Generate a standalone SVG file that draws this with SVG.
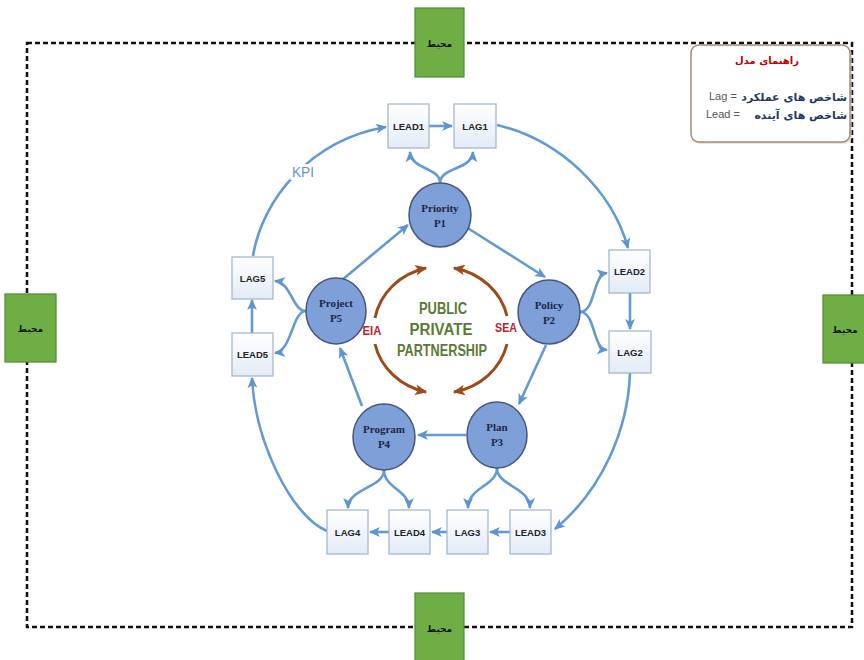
<svg xmlns="http://www.w3.org/2000/svg" width="864" height="660" viewBox="0 0 864 660">
<defs>
<linearGradient id="boxg" x1="0" y1="0" x2="0" y2="1">
<stop offset="0" stop-color="#ffffff"/>
<stop offset="1" stop-color="#e3ebf6"/>
</linearGradient>
<marker id="ab" markerUnits="userSpaceOnUse" viewBox="0 0 10 10" markerWidth="11" markerHeight="11" refX="9" refY="5" orient="auto">
<path d="M0,0.5 L10,5 L0,9.5 L2.5,5 z" fill="#5f95cf"/>
</marker>
<marker id="ar" markerUnits="userSpaceOnUse" viewBox="0 0 10 10" markerWidth="12" markerHeight="12" refX="9" refY="5" orient="auto">
<path d="M0,0.5 L10,5 L0,9.5 L2.5,5 z" fill="#9c4a1a"/>
</marker>
</defs>
<style>
.env rect{fill:#6fae45;stroke:#4f8a32;stroke-width:1.2}
.env text{font-family:"DejaVu Sans",sans-serif;font-size:9px;font-weight:bold;fill:#111;text-anchor:middle}
.sq rect{fill:url(#boxg);stroke:#9fb3cb;stroke-width:1.2}
.sq text{font-family:"Liberation Sans",Arial,sans-serif;font-size:9.5px;font-weight:bold;fill:#222;text-anchor:middle}
.pn ellipse{fill:#7f9fd9;stroke:#45577d;stroke-width:1.5}
.pn text{font-family:"Liberation Serif","Times New Roman",serif;font-size:11px;font-weight:bold;fill:#1c2746;text-anchor:middle}
.c path{fill:none;stroke:#629ad2;stroke-width:2.6;marker-end:url(#ab)}
.br path{fill:none;stroke:#9c4a1a;stroke-width:3;marker-end:url(#ar)}
</style>
<rect x="0" y="0" width="864" height="660" fill="#ffffff"/>
<rect x="27" y="43" width="825" height="584" fill="none" stroke="#111" stroke-width="2.5" stroke-dasharray="5,3"/>
<g id="legend">
<rect x="693" y="47" width="159" height="97" rx="8" fill="#d9d0c8" opacity="0.6"/>
<rect x="691" y="45" width="159" height="97" rx="8" fill="#ffffff" stroke="#a58a7a" stroke-width="1.5"/>
<text x="767" y="64" font-family="DejaVu Sans,sans-serif" font-size="10px" font-weight="bold" fill="#c00000" text-anchor="middle">راهنمای مدل</text>
<text x="847" y="101" font-family="DejaVu Sans,sans-serif" font-size="11px" font-weight="bold" fill="#1f3864" text-anchor="end">شاخص های عملکرد</text>
<text x="709" y="100" font-family="Liberation Sans,Arial,sans-serif" font-size="11px" fill="#555">Lag =</text>
<text x="847" y="119" font-family="DejaVu Sans,sans-serif" font-size="11px" font-weight="bold" fill="#1f3864" text-anchor="end">شاخص های آینده</text>
<text x="706" y="118" font-family="Liberation Sans,Arial,sans-serif" font-size="11px" fill="#555">Lead =</text>
</g>
<g id="env-top" class="env"><rect x="415" y="8" width="49" height="69"/><text x="439.5" y="47">محیط</text></g>
<g id="env-left" class="env"><rect x="5" y="294" width="51" height="68"/><text x="30.5" y="332">محیط</text></g>
<g id="env-right" class="env"><rect x="823" y="295" width="45" height="68"/><text x="845" y="333">محیط</text></g>
<g id="env-bottom" class="env"><rect x="415" y="593" width="49" height="70"/><text x="439.5" y="632">محیط</text></g>
<g id="connectors">
<g class="c">
<path d="M429,126 L452,126"/>
<path d="M440,183 C440,167 411,170 410,152"/>
<path d="M440,183 C440,167 472,170 473,152"/>
<path d="M497,125 C560,140 612,190 628,248"/>
<path d="M630,293 L630,329"/>
<path d="M580,312 C596,312 592,275 607,273"/>
<path d="M580,312 C596,312 592,349 607,350"/>
<path d="M630,373 C628,430 602,490 555,529"/>
<path d="M497,468 C497,486 468,487 468,508"/>
<path d="M497,468 C497,486 530,487 530,508"/>
<path d="M510,532 L490,532"/>
<path d="M447,532 L432,532"/>
<path d="M389,532 L370,532"/>
<path d="M384,470 C384,488 348,488 348,508"/>
<path d="M384,470 C384,488 409,490 409,508"/>
<path d="M327,531 C290,515 255,440 252,378"/>
<path d="M252,333 L252,300"/>
<path d="M306,311 C292,311 292,283 275,281"/>
<path d="M306,311 C292,311 292,351 275,353"/>
<path d="M253,256 C262,200 310,140 386,127"/>
<path d="M342,280 L408,225"/>
<path d="M466,227 L545,277"/>
<path d="M546,345 L519,404"/>
<path d="M466,435 L418,435"/>
<path d="M362,406 L340,348"/>
</g>
<g class="br">
<path d="M375,318 A68,63 0 0 1 426,268"/>
<path d="M507,316 A68,63 0 0 0 454,268"/>
<path d="M375,344 A68,63 0 0 0 426,392"/>
<path d="M507,344 A68,63 0 0 1 454,392"/>
</g>
<text x="303" y="177" font-family="Liberation Sans,Arial,sans-serif" font-size="14px" fill="#5f95cf" text-anchor="middle" stroke="#ffffff" stroke-width="6" paint-order="stroke" textLength="22" lengthAdjust="spacingAndGlyphs">KPI</text>
</g>
<g id="center-text" font-family="Liberation Sans,Arial,sans-serif" font-size="16px" font-weight="bold" fill="#5b7a33" text-anchor="middle">
<text x="443" y="314" textLength="48" lengthAdjust="spacingAndGlyphs">PUBLIC</text>
<text x="441" y="335" textLength="63" lengthAdjust="spacingAndGlyphs">PRIVATE</text>
<text x="442" y="356" textLength="90" lengthAdjust="spacingAndGlyphs">PARTNERSHIP</text>
</g>
<text x="372" y="335" font-family="Liberation Sans,Arial,sans-serif" font-size="12px" font-weight="bold" fill="#c0202a" text-anchor="middle" textLength="19" lengthAdjust="spacingAndGlyphs">EIA</text>
<text x="506" y="332" font-family="Liberation Sans,Arial,sans-serif" font-size="12px" font-weight="bold" fill="#c0202a" text-anchor="middle" textLength="22" lengthAdjust="spacingAndGlyphs">SEA</text>
<g id="P1" class="pn"><ellipse cx="440" cy="215" rx="31" ry="32"/><text x="440" y="212">Priority</text><text x="440" y="227">P1</text></g>
<g id="P2" class="pn"><ellipse cx="549" cy="312" rx="31" ry="32"/><text x="549" y="309">Policy</text><text x="549" y="324">P2</text></g>
<g id="P3" class="pn"><ellipse cx="497" cy="435" rx="30" ry="33"/><text x="497" y="431">Plan</text><text x="497" y="446">P3</text></g>
<g id="P4" class="pn"><ellipse cx="384" cy="437" rx="31" ry="33"/><text x="384" y="433">Program</text><text x="384" y="448">P4</text></g>
<g id="P5" class="pn"><ellipse cx="336" cy="311" rx="30" ry="33"/><text x="336" y="307">Project</text><text x="336" y="322">P5</text></g>
<g id="LEAD1" class="sq"><rect x="388" y="104" width="41" height="44"/><text x="408.5" y="130">LEAD1</text></g>
<g id="LAG1" class="sq"><rect x="454" y="104" width="42" height="44"/><text x="475" y="130">LAG1</text></g>
<g id="LEAD2" class="sq"><rect x="609" y="250" width="41" height="43"/><text x="629.5" y="275">LEAD2</text></g>
<g id="LAG2" class="sq"><rect x="609" y="331" width="42" height="42"/><text x="630" y="356">LAG2</text></g>
<g id="LEAD3" class="sq"><rect x="510" y="510" width="41" height="44"/><text x="530.5" y="536">LEAD3</text></g>
<g id="LAG3" class="sq"><rect x="447" y="510" width="41" height="44"/><text x="467.5" y="536">LAG3</text></g>
<g id="LEAD4" class="sq"><rect x="389" y="510" width="41" height="44"/><text x="409.5" y="536">LEAD4</text></g>
<g id="LAG4" class="sq"><rect x="327" y="510" width="41" height="44"/><text x="347.5" y="536">LAG4</text></g>
<g id="LAG5" class="sq"><rect x="232" y="257" width="41" height="42"/><text x="252.5" y="282">LAG5</text></g>
<g id="LEAD5" class="sq"><rect x="232" y="333" width="41" height="43"/><text x="252.5" y="358">LEAD5</text></g>
</svg>
